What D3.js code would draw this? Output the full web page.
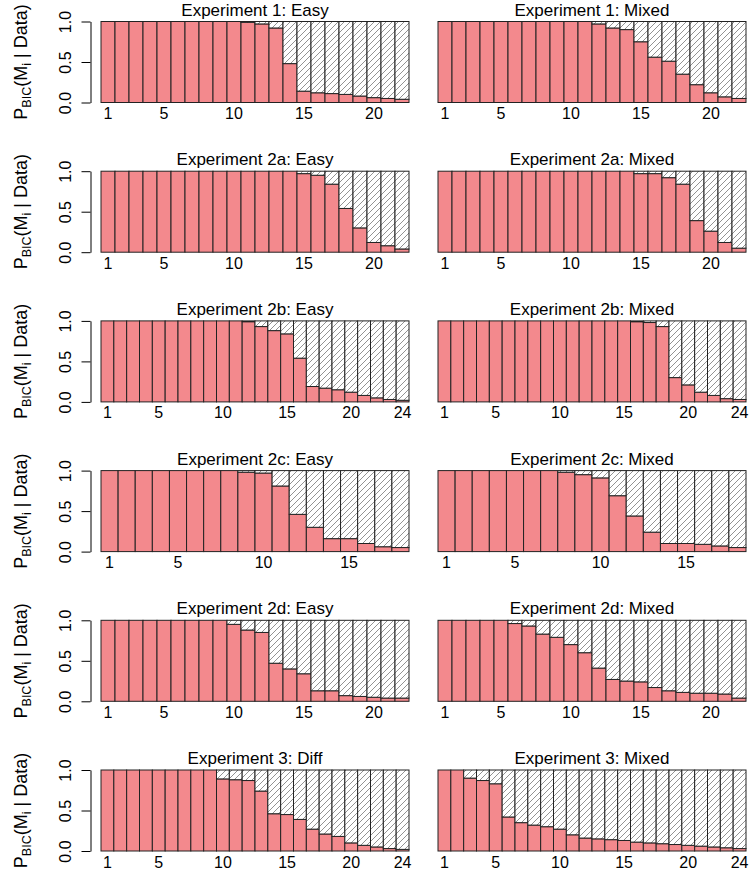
<!DOCTYPE html>
<html><head><meta charset="utf-8">
<script src="https://cdn.jsdelivr.net/npm/d3@7"></script>
<style>body{margin:0;background:#fff}svg{display:block}</style>
</head><body><script>
// ---- data ----
const titles = ["Experiment 1: Easy","Experiment 1: Mixed","Experiment 2a: Easy","Experiment 2a: Mixed",
  "Experiment 2b: Easy","Experiment 2b: Mixed","Experiment 2c: Easy","Experiment 2c: Mixed",
  "Experiment 2d: Easy","Experiment 2d: Mixed","Experiment 3: Diff","Experiment 3: Mixed"];
const exp1Easy   = [1,1,1,1,1,1,1,1,1,1,0.99,0.97,0.92,0.48,0.14,0.12,0.11,0.10,0.08,0.06,0.05,0.04];
const exp1Mixed  = [1,1,1,1,1,1,1,1,1,1,1,0.97,0.92,0.90,0.75,0.56,0.51,0.35,0.22,0.12,0.07,0.05];
const exp2aEasy  = [1,1,1,1,1,1,1,1,1,1,1,1,1,1,0.97,0.95,0.84,0.54,0.30,0.12,0.08,0.04];
const exp2aMixed = [1,1,1,1,1,1,1,1,1,1,1,1,1,1,0.97,0.97,0.92,0.84,0.39,0.26,0.12,0.05];
const exp2bEasy  = [1,1,1,1,1,1,1,1,1,1,1,0.99,0.93,0.88,0.84,0.54,0.19,0.17,0.15,0.12,0.08,0.05,0.03,0.02];
const exp2bMixed = [1,1,1,1,1,1,1,1,1,1,1,1,1,1,1,0.99,0.98,0.93,0.30,0.21,0.12,0.08,0.04,0.03];
const exp2cEasy  = [1,1,1,1,1,1,1,1,0.98,0.97,0.81,0.46,0.30,0.16,0.16,0.10,0.06,0.05];
const exp2cMixed = [1,1,1,1,1,1,1,0.98,0.95,0.91,0.69,0.44,0.24,0.10,0.10,0.09,0.07,0.05];
const exp2dEasy  = [1,1,1,1,1,1,1,1,1,0.95,0.88,0.85,0.47,0.40,0.34,0.13,0.13,0.07,0.06,0.05,0.04,0.04];
const exp2dMixed = [1,1,1,1,1,0.96,0.93,0.83,0.79,0.70,0.60,0.41,0.27,0.25,0.24,0.17,0.13,0.11,0.10,0.10,0.09,0.04];
const exp3Diff   = [1,1,1,1,1,1,1,1,1,0.89,0.88,0.87,0.74,0.46,0.45,0.39,0.27,0.21,0.18,0.10,0.07,0.05,0.03,0.02];
const exp3Mixed  = [1,1,0.90,0.87,0.83,0.42,0.35,0.32,0.30,0.27,0.20,0.16,0.15,0.14,0.13,0.11,0.10,0.09,0.08,0.07,0.06,0.05,0.04,0.03];
const ticks18 = [1,5,10,15];
const ticks22 = [1,5,10,15,20];
const ticks24 = [1,5,10,15,20,24];
const yTicks = [0, 0.5, 1];

const seriesList = [exp1Easy,exp1Mixed,exp2aEasy,exp2aMixed,exp2bEasy,exp2bMixed,
                    exp2cEasy,exp2cMixed,exp2dEasy,exp2dMixed,exp3Diff,exp3Mixed];
const tickFor = n => n === 18 ? ticks18 : (n === 24 ? ticks24 : ticks22);

// ---- layout ----
const W = 750, H = 871;
const colX = [[101, 409], [438, 746]];
const rowTop0 = 21.5, rowStep = 149.7, plotH = 81;
const pink = "#F3898D", edge = "#222";
const font = "'Liberation Sans', Arial, Helvetica, sans-serif";

const svg = d3.select("body").append("svg").attr("width", W).attr("height", H)
  .style("font-family", font);

const defs = svg.append("defs");
const pat = defs.append("pattern").attr("id","hatch").attr("patternUnits","userSpaceOnUse")
  .attr("width",6).attr("height",6);
pat.append("rect").attr("width",6).attr("height",6).attr("fill","#fff");
pat.append("path").attr("d","M0,6 L6,0 M-1,1 L1,-1 M5,7 L7,5")
  .attr("stroke","#808080").attr("stroke-width",0.85);

seriesList.forEach((vals, idx) => {
  const r = Math.floor(idx / 2), c = idx % 2;
  const n = vals.length;
  const top = rowTop0 + rowStep * r, bottom = top + plotH;
  const x = d3.scaleBand().domain(d3.range(1, n + 1)).range(colX[c]).padding(0);
  const y = d3.scaleLinear().domain([0, 1]).range([bottom, top]);
  const g = svg.append("g");
  const data = vals.map((v, i) => ({i: i + 1, v}));

  g.selectAll("rect.p").data(data).join("rect").attr("class","p")
    .attr("x", d => x(d.i)).attr("width", x.bandwidth())
    .attr("y", d => y(d.v)).attr("height", d => y(0) - y(d.v))
    .attr("fill", pink).attr("stroke", edge).attr("stroke-width", 1);
  g.selectAll("rect.h").data(data.filter(d => d.v < 1)).join("rect").attr("class","h")
    .attr("x", d => x(d.i)).attr("width", x.bandwidth())
    .attr("y", y(1)).attr("height", d => y(d.v) - y(1))
    .attr("fill", "url(#hatch)").attr("stroke", edge).attr("stroke-width", 1);

  svg.append("text").attr("x", (colX[c][0] + colX[c][1]) / 2).attr("y", top - 6)
    .attr("text-anchor","middle").attr("font-size", 17).attr("fill","#000")
    .text(titles[idx]);

  const xt = svg.append("g").attr("transform", `translate(0,${bottom})`)
    .call(d3.axisBottom(x).tickValues(tickFor(n)).tickSize(0).tickPadding(0));
  xt.select(".domain").remove();
  xt.selectAll("text").attr("font-size", 16).attr("font-family", font).attr("fill","#000")
    .attr("dy", null).attr("y", 16.5);

  if (c === 0) {
    const ya = svg.append("g").attr("transform", "translate(90.5,0)")
      .call(d3.axisLeft(y).tickValues(yTicks).tickFormat(d3.format(".1f")).tickSize(9).tickSizeOuter(0));
    ya.select(".domain").attr("stroke","#000");
    ya.selectAll("line").attr("stroke","#000");
    ya.selectAll("text").attr("font-size", 16).attr("font-family", font).attr("fill","#000")
      .attr("text-anchor","middle").attr("dy", null).attr("x", null)
      .attr("transform", "translate(-19.5,0) rotate(-90)");
    const yl = svg.append("text").attr("font-size", 18).attr("fill","#000")
      .attr("text-anchor","middle")
      .attr("transform", `translate(26.5,${(top + bottom) / 2}) rotate(-90)`);
    yl.append("tspan").text("P");
    yl.append("tspan").attr("font-size", 12.5).attr("dy", 4).text("BIC");
    yl.append("tspan").attr("dy", -4).text("(M");
    yl.append("tspan").attr("font-size", 12.5).attr("dy", 4).text("i");
    yl.append("tspan").attr("dy", -4).text(" | Data)");
  }
});
</script></body></html>
